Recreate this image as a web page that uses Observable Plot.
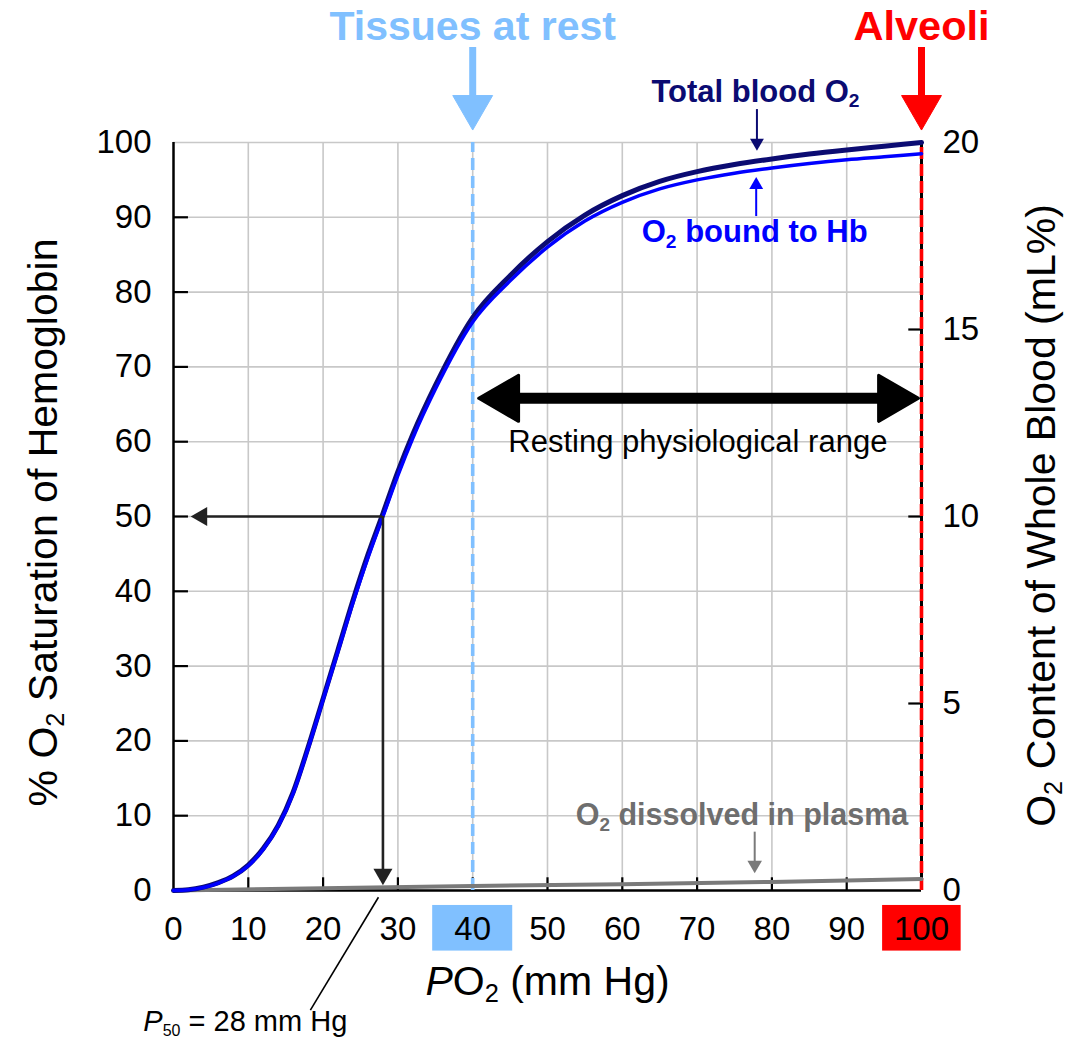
<!DOCTYPE html>
<html>
<head>
<meta charset="utf-8">
<script src="https://cdn.jsdelivr.net/npm/d3@7"></script>
<script src="https://cdn.jsdelivr.net/npm/@observablehq/plot@0.6"></script>
<style>
  html, body { margin: 0; padding: 0; background: #fff; }
  #chart { width: 1076px; height: 1042px; }
</style>
</head>
<body>
<div id="chart"></div>
<script>
// ---------- data ----------
const po2 = [0, 2, 4, 6, 8, 10, 12, 14, 16, 18, 20, 22, 24, 26, 28, 30, 32, 35, 40, 45, 50, 55, 60, 65, 70, 75, 80, 85, 90, 95, 100];
// % O2 saturation of hemoglobin (O2 bound to Hb)
const hbSaturation = [0, 0.1, 0.4, 1.0, 1.9, 3.3, 5.5, 8.6, 13, 19, 25.5, 32, 38.5, 44.5, 50, 55.5, 60.5, 67, 76, 81.5, 86, 89.5, 92, 93.8, 95, 95.9, 96.6, 97.2, 97.7, 98.1, 98.5];
// Total blood O2 content (mL%)
const totalBloodO2 = [0, 0.02, 0.09, 0.21, 0.39, 0.68, 1.12, 1.74, 2.63, 3.83, 5.13, 6.44, 7.76, 8.98, 10.08, 11.2, 12.2, 13.5, 15.32, 16.44, 17.35, 18.06, 18.58, 18.96, 19.22, 19.41, 19.56, 19.69, 19.8, 19.9, 20.0];
// O2 dissolved in plasma (mL%)
const plasmaPo2 = [0, 20, 40, 60, 80, 100];
const plasmaO2 = [0, 0.06, 0.12, 0.17, 0.23, 0.31];

const xTicks = [0, 10, 20, 30, 40, 50, 60, 70, 80, 90, 100];
const saturationTicks = [0, 10, 20, 30, 40, 50, 60, 70, 80, 90, 100];
const contentTicks = [0, 5, 10, 15, 20];
const p50 = 28;
const tissuePo2 = 40;
const alveoliPo2 = 100;

const labels = {
  left: "% O₂ Saturation of Hemoglobin",
  right: "O₂ Content of Whole Blood (mL%)",
  bottom: "PO₂ (mm Hg)",
  tissues: "Tissues at rest",
  alveoli: "Alveoli",
  total: "Total blood O₂",
  bound: "O₂ bound to Hb",
  plasma: "O₂ dissolved in plasma",
  range: "Resting physiological range",
  p50: "P₅₀ = 28 mm Hg"
};

// ---------- build tables ----------
const hbTable = po2.map((p, i) => ({p, v: hbSaturation[i]}));
const totalTable = po2.map((p, i) => ({p, v: totalBloodO2[i]}));
const plasmaTable = plasmaPo2.map((p, i) => ({p, v: plasmaO2[i]}));
const contentFactor = 100 / 20; // 20 mL% == 100 % saturation

// ---------- styles ----------
const FONT = "'Liberation Sans', Arial, Helvetica, sans-serif";
const NAVY = "#0b0b72";
const BLUE = "#0000ff";
const LIGHTBLUE = "#80c0ff";
const RED = "#ff0000";
const GRAY = "#7a7a7a";
const GRID = "#c8c8c8";
const DARK = "#222222";

// triangular head helper: h = half-height unit of d3 triangle
const headR = h => Math.sqrt(h * h * 3 * Math.sqrt(3) / Math.PI);
function head(x, y, dir, h, fill, extra = {}) {
  const rot = {down: 180, up: 0, left: -90, right: 90}[dir];
  const off = 2 * h + (extra.strokeWidth ? extra.strokeWidth / 2 : 0);
  const dx = dir === "left" ? off : dir === "right" ? -off : 0;
  const dy = dir === "down" ? -off : dir === "up" ? off : 0;
  return Plot.dot([{x, y}], {x: "x", y: "y", symbol: "triangle", r: headR(h), rotate: rot,
    fill, stroke: extra.strokeWidth ? fill : "none", strokeWidth: extra.strokeWidth || 0,
    strokeLinejoin: "round", dx, dy});
}

const chart = Plot.plot({
  width: 1076,
  height: 1042,
  marginLeft: 173,
  marginRight: 155,
  marginTop: 142,
  marginBottom: 152,
  x: {domain: [0, 100]},
  y: {domain: [0, 100]},
  style: {fontFamily: FONT, background: "white", overflow: "visible", color: "black"},
  marks: [
    // highlighted tick boxes
    Plot.rect([tissuePo2], {x1: d => d - 5.35, x2: d => d + 5.35, y1: -2, y2: -8.1, fill: LIGHTBLUE}),
    Plot.rect([alveoliPo2], {x1: d => d - 5.2, x2: d => d + 5.3, y1: -2, y2: -8.1, fill: RED}),
    // grid
    Plot.ruleX(xTicks.filter(d => d > 0 && d < 100), {y1: 0, y2: 100, stroke: GRID, strokeWidth: 1.6}),
    Plot.ruleY(saturationTicks.filter(d => d > 0), {x1: 0, x2: 100, stroke: GRID, strokeWidth: 1.6}),
    // axis lines
    Plot.ruleX([0], {y1: 0, y2: 100, stroke: "black", strokeWidth: 2.5}),
    Plot.ruleY([0], {x1: 0, x2: 100, stroke: "black", strokeWidth: 2.5}),
    Plot.ruleX([100], {y1: 0, y2: 100, stroke: "black", strokeWidth: 3}),
    // inward ticks
    Plot.ruleY(saturationTicks.filter(d => d > 0 && d < 100), {x1: 0, x2: 2.0, stroke: "black", strokeWidth: 2.2}),
    Plot.ruleX(xTicks.filter(d => d > 0 && d < 100), {y1: 0, y2: 1.7, stroke: "black", strokeWidth: 2.2}),
    Plot.ruleY(contentTicks.filter(d => d > 0 && d < 20).map(d => d * contentFactor), {x1: 98.3, x2: 100, stroke: "black", strokeWidth: 2.2}),
    // reference dashed lines
    Plot.ruleX([tissuePo2], {y1: 0, y2: 100, stroke: LIGHTBLUE, strokeWidth: 3.6, strokeDasharray: "12,6"}),
    Plot.ruleX([alveoliPo2], {y1: 0, y2: 100, stroke: RED, strokeWidth: 3.6, strokeDasharray: "12,5"}),
    // curves
    Plot.line(plasmaTable, {x: "p", y: d => d.v * contentFactor, stroke: GRAY, strokeWidth: 4}),
    Plot.line(totalTable, {x: "p", y: d => d.v * contentFactor, stroke: NAVY, strokeWidth: 5, curve: "monotone-x"}),
    Plot.line(hbTable, {x: "p", y: "v", stroke: BLUE, strokeWidth: 3.5, curve: "monotone-x"}),
    // P50 arrows
    Plot.ruleY([50], {x1: p50, x2: 4.4, stroke: DARK, strokeWidth: 2.6}),
    Plot.ruleX([p50], {y1: 50, y2: 2.8, stroke: DARK, strokeWidth: 2.6}),
    head(2.3, 50, "left", 5.5, DARK),
    head(p50, 0.7, "down", 5.5, DARK),
    Plot.link([{x1: 27.4, y1: -0.9, x2: 18.3, y2: -16.0}], {x1: "x1", y1: "y1", x2: "x2", y2: "y2", stroke: "black", strokeWidth: 1.6}),
    // resting range double arrow
    Plot.ruleY([65.8], {x1: 44.5, x2: 96, stroke: "black", strokeWidth: 11}),
    head(40.6, 65.8, "left", 13.3, "black", {strokeWidth: 3}),
    head(99.8, 65.8, "right", 13.3, "black", {strokeWidth: 3}),
    // top arrows
    Plot.ruleX([tissuePo2], {y1: 112.7, y2: 105.5, stroke: LIGHTBLUE, strokeWidth: 7}),
    head(tissuePo2, 101.6, "down", 11.5, LIGHTBLUE, {strokeWidth: 1}),
    Plot.ruleX([alveoliPo2], {y1: 112.7, y2: 105.5, stroke: RED, strokeWidth: 7}),
    head(alveoliPo2, 101.6, "down", 11.5, RED, {strokeWidth: 1}),
    // small pointer arrows
    Plot.ruleX([78], {y1: 104.4, y2: 100.3, stroke: NAVY, strokeWidth: 2}),
    head(78, 98.9, "down", 4, NAVY),
    Plot.ruleX([77.9], {y1: 90.1, y2: 94.2, stroke: BLUE, strokeWidth: 2}),
    head(77.9, 95.4, "up", 4, BLUE),
    Plot.ruleX([77.7], {y1: 7.8, y2: 3.6, stroke: GRAY, strokeWidth: 2}),
    head(77.7, 2.3, "down", 4.2, GRAY),
    // annotation texts
    Plot.text([labels.tissues], {x: tissuePo2, y: 115.5, text: d => d, fontSize: 41, fontWeight: "bold", fill: LIGHTBLUE}),
    Plot.text([labels.alveoli], {x: alveoliPo2, y: 115.5, text: d => d, fontSize: 41.5, fontWeight: "bold", fill: RED}),
    Plot.text([labels.total], {x: 77.8, y: 106.8, text: d => d, fontSize: 31, fontWeight: "bold", fill: NAVY}),
    Plot.text([labels.bound], {x: 77.7, y: 88.0, text: d => d, fontSize: 31, fontWeight: "bold", fill: BLUE}),
    Plot.text([labels.plasma], {x: 76, y: 10, text: d => d, fontSize: 30.5, fontWeight: "bold", fill: "#6e6e6e"}),
    Plot.text([labels.range], {x: 70.1, y: 59.9, text: d => d, fontSize: 31, fill: "black"}),
    Plot.text([labels.p50], {x: 9.6, y: -17.6, text: d => d, fontSize: 29, fill: "black"}),
    // axis titles
    Plot.text([labels.left], {frameAnchor: "left", textAnchor: "middle", text: d => d, rotate: -90, dx: -130, dy: 6, fontSize: 41, fill: "black"}),
    Plot.text([labels.right], {frameAnchor: "right", textAnchor: "middle", text: d => d, rotate: -90, dx: 120, dy: -1, fontSize: 41, fill: "black"}),
    Plot.text([labels.bottom], {frameAnchor: "bottom", text: d => d, dy: 104, fontSize: 41, fill: "black"}),
    // axes (tick labels)
    Plot.axisY({anchor: "left", ticks: saturationTicks, tickSize: 0, tickPadding: 22, fontSize: 33, label: null}),
    Plot.axisY({anchor: "right", ticks: contentTicks.map(d => d * contentFactor), tickFormat: d => String(d / contentFactor), tickSize: 0, tickPadding: 21, fontSize: 33, label: null}),
    Plot.axisX({anchor: "bottom", ticks: xTicks, tickSize: 0, tickPadding: 26, fontSize: 33, label: null})
  ]
});

document.getElementById("chart").appendChild(chart);

// subscripts and italic P as real text (tspans)
(function richText(svg) {
  const ns = "http://www.w3.org/2000/svg";
  svg.querySelectorAll("text").forEach(t => {
    const s = t.textContent;
    const hasSub = /[\u2080-\u2089]/.test(s);
    const italP = s.startsWith("PO₂") || s.startsWith("P₅₀");
    if (!hasSub && !italP) return;
    if (t.querySelector("tspan")) return;
    const fs = parseFloat(getComputedStyle(t).fontSize) || 16;
    const small = s.startsWith("P₅₀");
    const shift = fs * (small ? 0.14 : 0.18);
    t.textContent = "";
    const parts = s.match(/[\u2080-\u2089]+|[^\u2080-\u2089]+/g);
    let shifted = false;
    parts.forEach((p, i) => {
      const isSub = /[\u2080-\u2089]/.test(p);
      if (isSub) {
        const ts = document.createElementNS(ns, "tspan");
        ts.setAttribute("font-size", (fs * (small ? 0.55 : 0.62)).toFixed(1));
        ts.setAttribute("dy", shift.toFixed(1));
        ts.textContent = p.replace(/[\u2080-\u2089]/g, c => String.fromCharCode(c.charCodeAt(0) - 0x2080 + 48));
        t.appendChild(ts);
        shifted = true;
      } else {
        let rest = p;
        if (i === 0 && italP) {
          const it = document.createElementNS(ns, "tspan");
          it.setAttribute("font-style", "italic");
          it.textContent = "P";
          t.appendChild(it);
          rest = p.slice(1);
        }
        if (rest) {
          const ts = document.createElementNS(ns, "tspan");
          if (shifted) ts.setAttribute("dy", (-shift).toFixed(1));
          shifted = false;
          ts.textContent = rest;
          t.appendChild(ts);
        }
      }
    });
  });
})(chart);
</script>
</body>
</html>
